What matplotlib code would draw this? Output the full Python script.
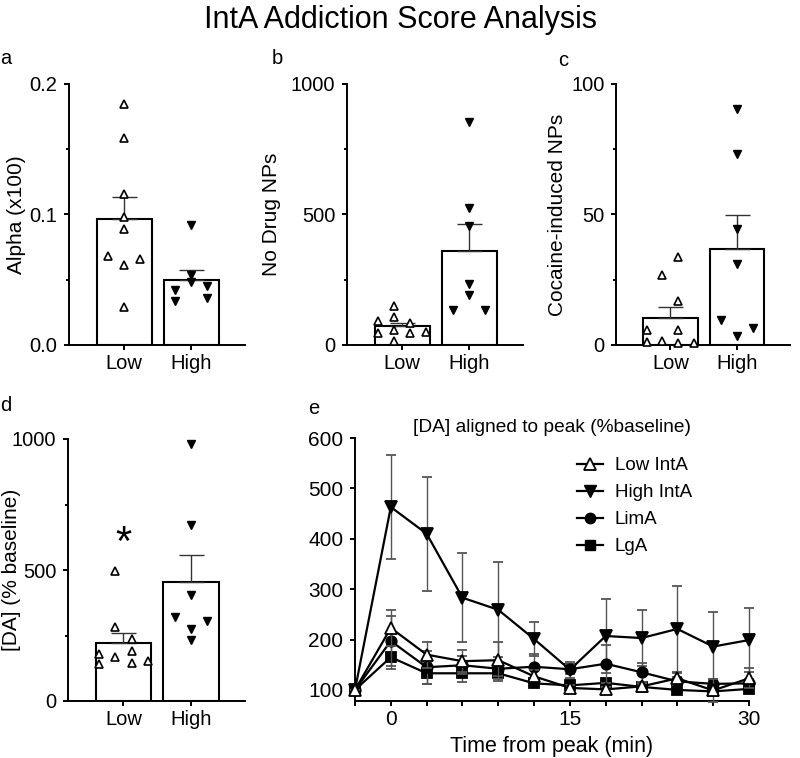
import matplotlib
matplotlib.use('Agg')
import matplotlib.pyplot as plt
import numpy as np
from matplotlib.lines import Line2D

plt.rcParams['font.family'] = ['Liberation Sans', 'DejaVu Sans']

# ---- datos ----
grupos = ['Low', 'High']

alpha_low = [0.185, 0.159, 0.116, 0.098, 0.089, 0.068, 0.066, 0.061, 0.029]
alpha_high = [0.092, 0.054, 0.048, 0.045, 0.042, 0.036, 0.034]

nodrug_low = [150, 106, 93, 83, 57, 51, 47, 47, 17]
nodrug_high = [856, 524, 457, 234, 190, 135, 135]

cocaine_low = [33.6, 26.7, 16.9, 5.7, 5.7, 1.7, 1.3, 0.9, 0.9]
cocaine_high = [90.5, 73.3, 44.3, 31.1, 9.7, 6.5, 3.4]

da_low = [495, 283, 238, 190, 178, 168, 153, 145, 143]
da_high = [982, 670, 405, 319, 306, 275, 233]

# panel e
t_min = [-3, 0, 3, 6, 9, 12, 15, 18, 21, 24, 27, 30]
low_inta = [100, 223, 170, 157, 159, 127, 104, 101, 107, 123, 99, 123]
low_inta_err = [0, 36, 26, 22, 37, 12, 5, 5, 5, 11, 22, 20]
high_inta = [100, 463, 410, 283, 259, 201, 140, 207, 203, 221, 186, 199]
high_inta_err = [0, 103, 113, 88, 94, 33, 16, 73, 55, 86, 69, 63]
lima = [100, 197, 145, 149, 142, 146, 141, 152, 135, 117, 112, 113]
lima_err = [0, 50, 33, 18, 14, 26, 10, 38, 19, 8, 10, 8]
lga = [100, 165, 133, 133, 133, 113, 109, 114, 106, 100, 97, 102]
lga_err = [0, 24, 21, 18, 16, 8, 5, 5, 5, 5, 5, 5]

# columnas del scatter (disposicion horizontal de los puntos, en pasos)
alpha_low_col = [0, 0, 0, 0, 0, -1, 1, 0, 0]
alpha_high_col = [0, 0, 0, 1, -1, 1, -1]
nodrug_low_col = [-0.5, -0.5, -1.5, 0.5, -0.5, 1.5, -1.5, 0.5, -0.5]
nodrug_high_col = [0, 0, 0, 0, 0, -1, 1]
cocaine_low_col = [0.5, -0.5, 0.5, -1.5, 0.5, -0.5, -1.5, 0.5, 1.5]
cocaine_high_col = [0, 0, 0, 0, -1, 1, 0]
da_low_col = [-0.5, -0.5, 0.5, 0.5, -1.5, -0.5, 1.5, 0.5, -1.5]
da_high_col = [0, 0, 0, -1, 1, 0, 0]

W, H = 800, 758
fig = plt.figure(figsize=(W / 100, H / 100), dpi=100)


def px_axes(left, top, right, bottom):
    return fig.add_axes([left / W, 1 - bottom / H, (right - left) / W, (bottom - top) / H])


def estilo(ax, fs=14.5):
    for s in ['top', 'right']:
        ax.spines[s].set_visible(False)
    for s in ['left', 'bottom']:
        ax.spines[s].set_linewidth(1.4)
    ax.tick_params(which='major', length=3.8, width=1.4, labelsize=fs, pad=4.5)
    ax.tick_params(which='minor', length=2.2, width=1.4)


def panel_barras(ax, low, high, low_col, high_col, yticks, ylabels, yminor, ylabel, labx):
    paso = 0.24
    for i, (vals, cols, hueco) in enumerate([(low, low_col, True), (high, high_col, False)]):
        vals = np.array(vals)
        media = vals.mean()
        sem = vals.std(ddof=1) / np.sqrt(len(vals))
        ax.bar(i, media, width=0.82, color='white', edgecolor='black', linewidth=1.5, zorder=1)
        ax.errorbar(i, media, yerr=[[0], [sem]], color='#333333', lw=1.0, capsize=9,
                    capthick=1.0, zorder=2)
        xs = i + np.array(cols) * paso
        if hueco:
            ax.plot(xs, vals, '^', ms=5.5, mfc='white', mec='black', mew=1.2, ls='none',
                    zorder=3, clip_on=False)
        else:
            ax.plot(xs, vals, 'v', ms=5.5, color='black', ls='none', zorder=3, clip_on=False)
    ax.set_xlim(-0.82, 1.8)
    ax.set_ylim(yticks[0], yticks[-1])
    ax.set_xticks([0, 1])
    ax.set_xticklabels(grupos)
    ax.set_yticks(yticks)
    ax.set_yticklabels(ylabels)
    ax.set_yticks(yminor, minor=True)
    ax.set_ylabel(ylabel, fontsize=15)
    ax.yaxis.set_label_coords(labx, 0.5)
    estilo(ax)
    ax.tick_params(axis='x', pad=3)


ax_a = px_axes(69, 84, 245, 345)
panel_barras(ax_a, alpha_low, alpha_high, alpha_low_col, alpha_high_col,
             [0, 0.1, 0.2], ['0.0', '0.1', '0.2'], [0.05, 0.15], 'Alpha (x100)', -0.245)

ax_b = px_axes(347, 84, 523, 345)
panel_barras(ax_b, nodrug_low, nodrug_high, nodrug_low_col, nodrug_high_col,
             [0, 500, 1000], ['0', '500', '1000'], [250, 750], 'No Drug NPs', -0.375)

ax_c = px_axes(616, 84, 790, 345)
panel_barras(ax_c, cocaine_low, cocaine_high, cocaine_low_col, cocaine_high_col,
             [0, 50, 100], ['0', '50', '100'], [25, 75], 'Cocaine-induced NPs', -0.28)

ax_d = px_axes(68, 439, 245, 701)
panel_barras(ax_d, da_low, da_high, da_low_col, da_high_col,
             [0, 500, 1000], ['0', '500', '1000'], [250, 750], '[DA] (% baseline)', -0.265)
ax_d.text(0, 600, '*', ha='center', va='center', fontsize=30)

# panel e
ax_e = px_axes(355, 438, 749, 701)
series = [
    (high_inta, high_inta_err, 'v', 'black', 8.5),
    (lga, lga_err, 's', 'black', 7),
    (lima, lima_err, 'o', 'black', 7.5),
    (low_inta, low_inta_err, '^', 'white', 8.5),
]
for z, (y, err, m, fc, ms) in enumerate(series):
    ax_e.errorbar(t_min, y, yerr=err, fmt='-', color='black', lw=1.6, marker=m, ms=ms,
                  mfc=fc, mec='black', mew=1.3, ecolor='#555555', elinewidth=1.0,
                  capsize=3.6, capthick=1.0, zorder=2 + z, clip_on=False)

ax_e.set_xlim(-3, 30)
ax_e.set_ylim(78, 600)
ax_e.set_yticks([100, 200, 300, 400, 500, 600])
ax_e.set_xticks([0, 15, 30])
ax_e.set_xticks([-3, 3, 6, 9, 12, 18, 21, 24, 27], minor=True)
estilo(ax_e, fs=15)
ax_e.tick_params(which='minor', length=3.8)
ax_e.tick_params(axis='x', pad=3)
ax_e.set_xlabel('Time from peak (min)', fontsize=15.5, labelpad=5)
ax_e.set_title('[DA] aligned to peak (%baseline)', fontsize=13.8, pad=4)

handles = [
    Line2D([], [], color='black', lw=1.6, marker='^', ms=8.5, mfc='white', mec='black', mew=1.3),
    Line2D([], [], color='black', lw=1.6, marker='v', ms=8.5, mfc='black', mec='black'),
    Line2D([], [], color='black', lw=1.6, marker='o', ms=7.5, mfc='black', mec='black'),
    Line2D([], [], color='black', lw=1.6, marker='s', ms=7, mfc='black', mec='black'),
]
ax_e.legend(handles, ['Low IntA', 'High IntA', 'LimA', 'LgA'], loc='upper left',
            bbox_to_anchor=(0.545, 0.955), frameon=False, fontsize=13.5, handlelength=1.4,
            handletextpad=0.6, labelspacing=0.52, borderaxespad=0)

# titulo y letras de panel
fig.text(0.5, 1 - 20 / H, 'IntA Addiction Score Analysis', ha='center', va='center', fontsize=22)
for letra, x, y in [('a', 0, 59), ('b', 272, 59), ('c', 558, 60), ('d', 0, 405), ('e', 308, 408)]:
    fig.text(x / W, 1 - y / H, letra, ha='left', va='center', fontsize=14.5)

fig.savefig('out.png', dpi=100)
